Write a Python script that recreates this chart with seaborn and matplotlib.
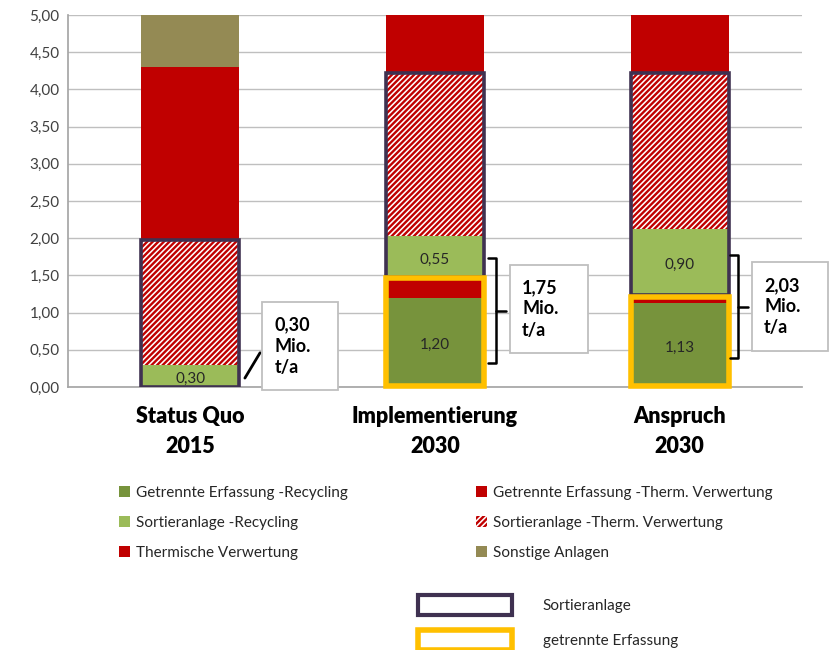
import numpy as np
import pandas as pd
import seaborn as sns
import matplotlib.pyplot as plt
from matplotlib.patches import Rectangle, Patch

categories = ['Status Quo\n2015', 'Implementierung\n2030', 'Anspruch\n2030']
series = ['Getrennte Erfassung -Recycling', 'Getrennte Erfassung -Therm. Verwertung',
          'Sortieranlage -Recycling', 'Sortieranlage -Therm. Verwertung',
          'Thermische Verwertung', 'Sonstige Anlagen']
getrennt_rec = [0.00, 1.20, 1.13]
getrennt_therm = [0.00, 0.28, 0.10]
sortier_rec = [0.30, 0.55, 0.90]
sortier_therm = [1.68, 2.19, 2.09]
thermisch = [2.32, 0.90, 0.90]
sonstige = [0.85, 0.00, 0.00]
recycling_total = ['0,30', '1,75', '2,03']

colors = ['#77933C', '#C00000', '#9BBB59', 'white', '#C00000', '#948A54']
hatches = [None, None, None, '//////', None, None]

sns.set_theme(style='white')
plt.rcParams['font.family'] = ['Lato', 'DejaVu Sans']
plt.rcParams['hatch.linewidth'] = 1.7

values = np.array([getrennt_rec, getrennt_therm, sortier_rec, sortier_therm, thermisch, sonstige])
cum = values.cumsum(axis=0)

fig = plt.figure(figsize=(8.3, 6.5), dpi=100)
ax = fig.add_axes([68 / 830, 1 - 387 / 650, 734 / 830, 372 / 650])

# stacked bars: draw cumulative totals from the top down
for i in range(len(series) - 1, -1, -1):
    df = pd.DataFrame({'cat': categories, 'val': cum[i]})
    ec = '#C00000' if hatches[i] else colors[i]
    sns.barplot(data=df, x='cat', y='val', color=colors[i], width=0.4,
                saturation=1, ax=ax, linewidth=0, edgecolor=ec, hatch=hatches[i], zorder=2)

ax.set_ylim(0, 5)
ax.set_xlim(-0.5, 2.5)
ax.set_yticks(np.arange(0, 5.01, 0.5))
ax.set_yticklabels([f'{v:.2f}'.replace('.', ',') for v in np.arange(0, 5.01, 0.5)],
                   fontsize=11, color='#404040')
ax.yaxis.grid(True, color='#BFBFBF', lw=1)
ax.set_axisbelow(True)
ax.set_xlabel('')
ax.set_ylabel('')
ax.set_xticks(range(3))
ax.set_xticklabels(categories, fontsize=15.5, fontweight='heavy', color='black', linespacing=1.5)
ax.set_xticks([-0.5, 0.5, 1.5, 2.5], minor=True)
ax.tick_params(axis='x', which='major', length=0, pad=14)
ax.tick_params(axis='x', which='minor', length=6, color='#A6A6A6', width=1)
ax.tick_params(axis='y', length=0, pad=6)
for s in ['top', 'right']:
    ax.spines[s].set_visible(False)
for s in ['left', 'bottom']:
    ax.spines[s].set_color('#A6A6A6')

# value labels for recycling segments
for j in range(3):
    for i in [0, 2]:
        if values[i, j] > 0:
            ax.text(j, cum[i, j] - values[i, j] / 2 - 0.04, f'{values[i, j]:.2f}'.replace('.', ','),
                    ha='center', va='center', fontsize=11, color='#262626', zorder=5)

# outline boxes: Sortieranlage (purple) and getrennte Erfassung (yellow)
w = 0.4
for j in range(3):
    lo = cum[1, j]
    hi = cum[3, j]
    ax.add_patch(Rectangle((j - w / 2, lo), w, hi - lo, fill=False, ec='#3F3151', lw=2.6, zorder=6))
    if cum[1, j] > 0:
        ax.add_patch(Rectangle((j - w / 2, 0.01), w, cum[1, j] - 0.03, fill=False,
                               ec='#FFC000', lw=4, zorder=6, clip_on=False))

# recycling total annotations
ax.plot([0.223, 0.285], [0.12, 0.46], color='black', lw=2, zorder=6)
for xb, y0, y1 in [(1.216, 0.32, 1.73), (2.205, 0.39, 1.77)]:
    ax.plot([xb, xb + 0.035, xb + 0.035, xb], [y1, y1, y0, y0], color='black', lw=1.8,
            zorder=6, clip_on=False)
    ax.plot([xb + 0.035, xb + 0.075], [(y0 + y1) / 2] * 2, color='black', lw=1.8, zorder=6,
            clip_on=False)
boxes = [(0.293, -0.04, 0.311, 1.18), (1.306, 0.457, 0.319, 1.183), (2.295, 0.48, 0.311, 1.20)]
for j, (bx, by, bw, bh) in enumerate(boxes):
    ax.add_patch(Rectangle((bx, by), bw, bh, facecolor='white', ec='#BFBFBF', lw=1.3,
                           zorder=7, clip_on=False))
    ax.text(bx + 0.05, by + bh / 2, f'{recycling_total[j]}\nMio.\nt/a', ha='left', va='center',
            fontsize=13, fontweight='bold', color='black', linespacing=1.3, zorder=8)

# legends
handles = [Patch(facecolor=colors[i], hatch=hatches[i], lw=0,
                 edgecolor='#C00000' if hatches[i] else colors[i], label=series[i])
           for i in range(len(series))]
leg_kw = dict(frameon=False, fontsize=11, handlelength=0.75, handleheight=0.75,
              handletextpad=0.4, labelspacing=1.05, borderpad=0, loc='upper left')
leg1 = fig.legend(handles=[handles[0], handles[2], handles[4]],
                  bbox_to_anchor=(111 / 830, 1 - 478 / 650), **leg_kw)
leg2 = fig.legend(handles=[handles[1], handles[3], handles[5]],
                  bbox_to_anchor=(468 / 830, 1 - 478 / 650), **leg_kw)
for t in leg1.get_texts() + leg2.get_texts():
    t.set_color('#262626')

box_handles = [Patch(facecolor='white', edgecolor='#3F3151', lw=3, label='Sortieranlage'),
               Patch(facecolor='white', edgecolor='#FFC000', lw=4, label='getrennte Erfassung')]
fig.legend(handles=box_handles, frameon=False, fontsize=11, handlelength=6.2, handleheight=1.7,
           handletextpad=2.0, labelspacing=0.95, borderpad=0, loc='upper left',
           bbox_to_anchor=(410 / 830, 1 - 587 / 650))

fig.savefig('out.png', dpi=100)
